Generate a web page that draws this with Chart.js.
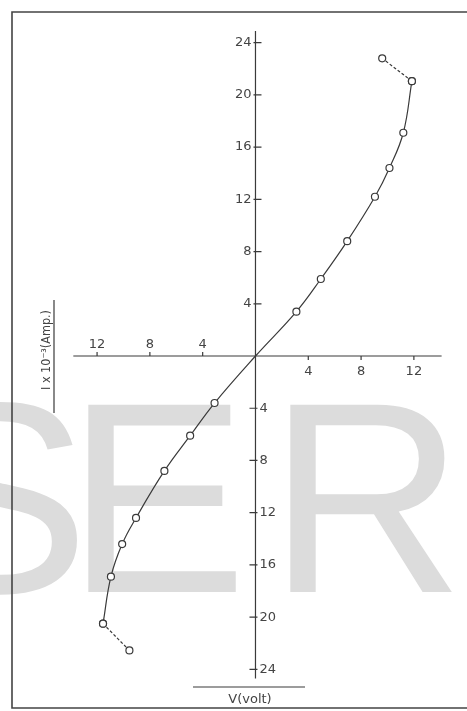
<!DOCTYPE html>
<html>
<head>
<meta charset="utf-8">
<script src="https://cdn.jsdelivr.net/npm/chart.js@4.4.1/dist/chart.umd.min.js"></script>
<style>
  html, body { margin: 0; padding: 0; background: #fff; }
  #wrap { width: 467px; height: 711px; position: relative; }
</style>
</head>
<body>
<div id="wrap"><canvas id="ivChart"></canvas></div>
<script>
// measured points, V in volt, I in 10^-3 Amp
const upperV = [3.1, 4.95, 6.95, 9.05, 10.15, 11.2, 11.85];
const upperI = [3.4, 5.9, 8.8, 12.2, 14.4, 17.1, 21.05];
const upperTailV = [11.85, 9.6];
const upperTailI = [21.05, 22.8];

const lowerV = [-3.1, -4.95, -6.9, -9.05, -10.1, -10.95, -11.55];
const lowerI = [-3.6, -6.1, -8.8, -12.4, -14.4, -16.9, -20.5];
const lowerTailV = [-11.55, -9.55];
const lowerTailI = [-20.5, -22.55];

// tick labels (shown without sign on both sides of origin)
const xTicks = [4, 8, 12];
const yTicks = [4, 8, 12, 16, 20, 24];

const ink = '#3a3a3a';

function toPts(vs, is) {
    return vs.map((v, k) => ({ x: v, y: is[k] }));
}

// solid fitted curve: lower branch (far end first) -> origin -> upper branch
const curvePts = toPts(lowerV.slice().reverse(), lowerI.slice().reverse())
    .concat([{ x: 0, y: 0 }])
    .concat(toPts(upperV, upperI));
const curveRadius = curvePts.map(p => (p.x === 0 && p.y === 0) ? 0 : 3.5);

// =========================================================
// paper: frame, watermark, axes drawn at the origin
// =========================================================
const paper = {
    id: 'paper',
    beforeDraw(chart) {
        const c = chart.ctx;
        c.save();
        c.fillStyle = '#fff';
        c.fillRect(0, 0, chart.width, chart.height);

        // faint watermark
        c.fillStyle = '#dcdcdc';
        c.font = '272px "Liberation Sans", Arial, sans-serif';
        c.textBaseline = 'alphabetic';
        c.textAlign = 'left';
        c.fillText('S', -92, 592);
        c.fillText('E', 66, 592);
        c.fillText('R', 268, 592);

        // frame
        c.strokeStyle = '#444';
        c.lineWidth = 1.6;
        c.beginPath();
        c.moveTo(467, 12);
        c.lineTo(12, 12);
        c.lineTo(12, 708);
        c.lineTo(467, 708);
        c.stroke();
        c.restore();
    },
    beforeDatasetsDraw(chart) {
        const c = chart.ctx;
        const xs = chart.scales.x;
        const ys = chart.scales.y;
        const x0 = xs.getPixelForValue(0);
        const y0 = ys.getPixelForValue(0);

        c.save();
        c.strokeStyle = ink;
        c.fillStyle = '#444';
        c.lineWidth = 1.2;

        // axis lines
        c.beginPath();
        c.moveTo(xs.getPixelForValue(-13.8), y0);
        c.lineTo(xs.getPixelForValue(14.1), y0);
        c.moveTo(x0, ys.getPixelForValue(24.9));
        c.lineTo(x0, ys.getPixelForValue(-24.7));
        c.stroke();

        c.font = '13px "DejaVu Sans", sans-serif';

        // x ticks: left side labelled above, right side below
        xTicks.forEach(v => {
            const pl = xs.getPixelForValue(-v);
            const pr = xs.getPixelForValue(v);
            c.beginPath();
            c.moveTo(pl, y0 - 4); c.lineTo(pl, y0);
            c.moveTo(pr, y0); c.lineTo(pr, y0 + 4);
            c.stroke();
            c.textAlign = 'center';
            c.textBaseline = 'alphabetic';
            c.fillText(String(v), pl, y0 - 8);
            c.textBaseline = 'top';
            c.fillText(String(v), pr, y0 + 9);
        });

        // y ticks: upper labels left of axis, lower labels right of axis
        yTicks.forEach(v => {
            const pu = ys.getPixelForValue(v);
            const pd = ys.getPixelForValue(-v);
            c.beginPath();
            c.moveTo(x0 - 2, pu); c.lineTo(x0 + 6, pu);
            c.moveTo(x0 - 6, pd); c.lineTo(x0 + 2, pd);
            c.stroke();
            c.textBaseline = 'middle';
            c.textAlign = 'right';
            c.fillText(String(v), x0 - 4, pu);
            c.textAlign = 'left';
            c.fillText(String(v), x0 + 4, pd);
        });

        // axis titles
        c.font = '13px "DejaVu Sans", sans-serif';
        c.textAlign = 'center';
        c.textBaseline = 'alphabetic';
        c.fillText('V(volt)', 250, 703, 62);
        c.beginPath();
        c.moveTo(193, 687); c.lineTo(305, 687);
        c.stroke();

        c.save();
        c.translate(50, 350);
        c.rotate(-Math.PI / 2);
        c.textAlign = 'center';
        c.fillText('I x 10\u207B\u00B3(Amp.)', 0, 0, 80);
        c.restore();
        c.beginPath();
        c.moveTo(54, 300); c.lineTo(54, 413);
        c.stroke();

        c.restore();
    }
};

const pointStyle = {
    showLine: true,
    borderColor: ink,
    borderWidth: 1.2,
    pointBackgroundColor: '#fff',
    pointBorderColor: ink,
    pointBorderWidth: 1.2,
    pointRadius: 3.5,
};

new Chart(document.getElementById('ivChart'), {
    type: 'scatter',
    data: {
        datasets: [
            Object.assign({}, pointStyle, {
                label: 'I-V',
                data: curvePts,
                tension: 0.4,
                pointRadius: curveRadius,
            }),
            Object.assign({}, pointStyle, {
                label: 'upper tail',
                data: toPts(upperTailV, upperTailI),
                borderDash: [3, 2],
            }),
            Object.assign({}, pointStyle, {
                label: 'lower tail',
                data: toPts(lowerTailV, lowerTailI),
                borderDash: [3, 2],
            }),
        ]
    },
    options: {
        responsive: true,
        maintainAspectRatio: false,
        animation: false,
        layout: { padding: 0 },
        plugins: {
            legend: { display: false },
            tooltip: { enabled: false },
        },
        scales: {
            x: { type: 'linear', display: false, min: -18.96, max: 15.63 },
            y: { type: 'linear', display: false, min: -26.79, max: 26.87 },
        }
    },
    plugins: [paper]
});
</script>
</body>
</html>
